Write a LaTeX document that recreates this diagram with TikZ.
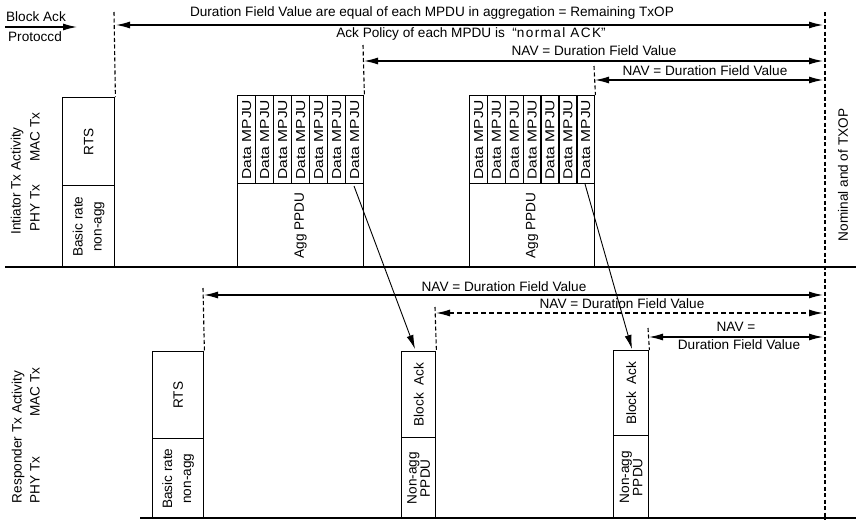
\documentclass[tikz,border=0pt]{standalone}
\usepackage{fontspec}
\setmainfont{Liberation Sans}
\usetikzlibrary{arrows.meta}
\newcommand{\fs}{\fontsize{13.6}{15}\selectfont}
\begin{document}
\begin{tikzpicture}[x=1pt,y=-1pt,
  >={Latex[length=14pt,width=7pt]},
  lbl/.style={font=\fs, inner sep=0pt},
  rlbl/.style={font=\fs, inner sep=0pt, rotate=90},
  two/.style={font=\fontsize{13.6}{19}\selectfont, inner sep=0pt, rotate=90, align=center},
  boxn/.style={draw, line width=1.4pt, inner sep=0pt, anchor=north west},
  vd/.style={line width=1.1pt, dash pattern=on 4pt off 2.5pt},
  arr/.style={line width=1.2pt},
  dcol/.style={boxn, minimum height=88pt},
  dtxt/.style={font=\fontsize{13}{15}\selectfont, inner sep=0pt, rotate=90}
]
\useasboundingbox (0,0) rectangle (856,520);

% ---------- top-left legend
\node[lbl] (bak) at (36,17) {Block Ack};
\node[lbl] (prot) at (35,37) {Protoccd};
\coordinate (ba0) at (5,27);
\coordinate (ba1) at (77,27);
\draw[arr,->] (ba0) -- (ba1);

% ---------- initiator boxes
\node[boxn, minimum width=52pt, minimum height=88pt] (irts) at (62,97) {};
\node[boxn, minimum width=52pt, minimum height=82pt] (iphy) at (62,185) {};
\node[rlbl] at (irts.center) {RTS};
\node[two] at (iphy.center) {Basic rate\\non-agg};

\foreach \i in {0,...,6}{
  \node[dcol, minimum width=18pt] (a\i) at ({237+18*\i},95) {};
  \node[dtxt] at (a\i.center) {\scalebox{1.2}[1]{Data MPJU}};
  \node[dcol, minimum width=17.86pt] (b\i) at ({469+17.86*\i},95) {};
  \node[dtxt] at (b\i.center) {\scalebox{1.2}[1]{Data MPJU}};
}
\node[boxn, minimum width=126pt, minimum height=84pt] (aggA) at (237,183) {};
\node[rlbl] at (aggA.center) {Agg PPDU};
\node[boxn, minimum width=125pt, minimum height=84pt] (aggB) at (469,183) {};
\node[rlbl] at (aggB.center) {Agg PPDU};

% initiator ground line
\coordinate (g0) at (5,267);
\coordinate (g1) at (856,267);
\draw[line width=2pt] (g0) -- (g1);

% initiator labels
\node[rlbl] (ita) at (17,181) {Intiator Tx Activity};
\node[rlbl] (imac) at (35,137) {MAC Tx};
\node[rlbl] (iphyl) at (35,208) {PHY Tx};

% ---------- responder boxes
\node[boxn, minimum width=51pt, minimum height=87pt] (rrts) at (152,351) {};
\node[boxn, minimum width=51pt, minimum height=80pt] (rphy) at (152,438) {};
\node[rlbl] at (rrts.center) {RTS};
\node[two] at (rphy.center) {Basic rate\\non-agg};

\node[boxn, minimum width=34pt, minimum height=86pt] (bkA) at (401,351) {};
\node[boxn, minimum width=34pt, minimum height=81pt] (npA) at (401,437) {};
\node[rlbl] at (bkA.center) {Block\ \ Ack};
\node[two, font=\fontsize{13.6}{12}\selectfont] at (npA.center) {Non-agg\\PPDU};

\node[boxn, minimum width=35pt, minimum height=85pt] (bkB) at (613,350) {};
\node[boxn, minimum width=35pt, minimum height=83pt] (npB) at (613,435) {};
\node[rlbl] at (bkB.center) {Block\ \ Ack};
\node[two, font=\fontsize{13.6}{12}\selectfont] at (npB.center) {Non-agg\\PPDU};

\coordinate (h0) at (140,518);
\coordinate (h1) at (856,518);
\draw[line width=1.6pt] (h0) -- (h1);

% responder labels
\node[rlbl] (rta) at (18,437) {Responder Tx Activity};
\node[rlbl] (rmac) at (35,392) {MAC Tx};
\node[rlbl] (rphyl) at (35,480) {PHY Tx};

% ---------- dashed verticals
\coordinate (v1) at (114,12);
\coordinate (v2) at (363,45);
\coordinate (v3) at (594,66);
\coordinate (vt) at (825,12);
\coordinate (vb) at (825,520);
\coordinate (w1) at (203,288);
\coordinate (w2) at (435,307);
\coordinate (w3) at (648,328);
\draw[vd] (v1) -- (irts.north east);
\draw[vd] (v2) -- (a6.north east);
\draw[vd] (v3) -- (b6.north east);
\draw[vd] (vt) -- (vb);
\draw[vd] (w1) -- (rrts.north east);
\draw[vd] (w2) -- (bkA.north east);
\draw[vd] (w3) -- (bkB.north east);

% ---------- horizontal NAV arrows
\coordinate (p1a) at (116,25);  \coordinate (p1b) at (823,25);
\coordinate (p2a) at (364,61);  \coordinate (p2b) at (823,61);
\coordinate (p3a) at (595,80);  \coordinate (p3b) at (823,80);
\coordinate (q1a) at (204,295); \coordinate (q1b) at (823,295);
\coordinate (q2a) at (436,313); \coordinate (q2b) at (823,313);
\coordinate (q3a) at (649,337); \coordinate (q3b) at (823,337);
\draw[arr,<->] (p1a) -- (p1b);
\draw[arr,<->] (p2a) -- (p2b);
\draw[arr,<->] (p3a) -- (p3b);
\draw[arr,<->] (q1a) -- (q1b);
\draw[arr,<->, dash pattern=on 5pt off 3pt] (q2a) -- (q2b);
\draw[arr,<->] (q3a) -- (q3b);

\node[lbl] (t1) at (432,13) {Duration Field Value are equal of each MPDU in aggregation = Remaining TxOP};
\node[lbl] (t2) at (471,34) {Ack Policy of each MPDU is\ \ “{\addfontfeature{LetterSpace=10}normal\ ACK}”};
\node[lbl] (t3) at (594,51) {NAV = Duration Field Value};
\node[lbl] (t4) at (705,71) {NAV = Duration Field Value};
\node[lbl] (t5) at (504,287) {NAV = Duration Field Value};
\node[lbl] (t6) at (622,304) {NAV = Duration Field Value};
\node[lbl] (t7) at (736,327) {NAV =};
\node[lbl] (t8) at (739,345) {Duration Field Value};
\node[rlbl] (nom) at (843,175) {Nominal and of TXOP};

% ---------- block-ack response arrows
\coordinate (s1) at (354,186);
\coordinate (e1) at (415,349);
\coordinate (s2) at (585,184);
\coordinate (e2) at (632,349);
\draw[arr,->, line width=0.9pt] (s1) -- (e1);
\draw[arr,->, line width=0.9pt] (s2) -- (e2);
\end{tikzpicture}
\end{document}
